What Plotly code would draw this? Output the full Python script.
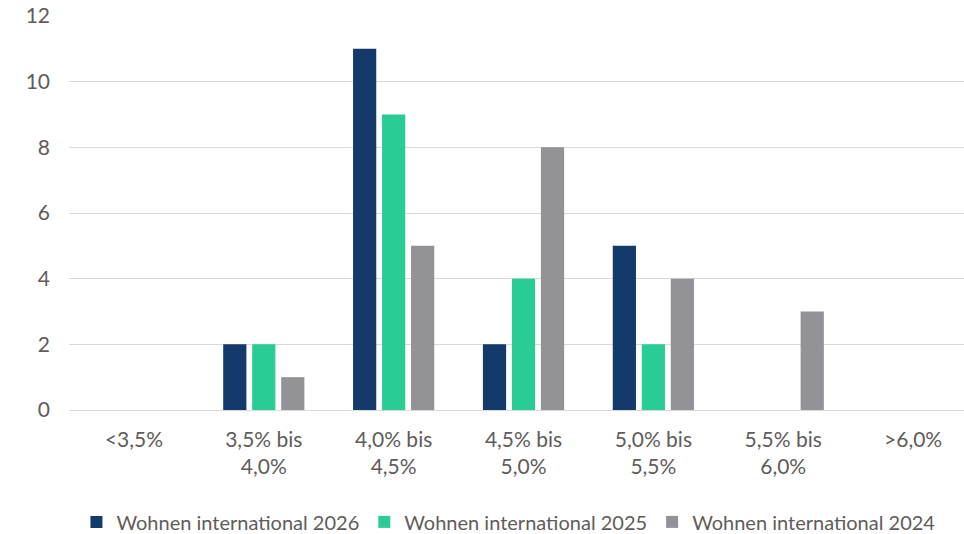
import plotly.graph_objects as go

# Interest-rate bands (x categories)
categories = ["<3,5%", "3,5% bis<br>4,0%", "4,0% bis<br>4,5%", "4,5% bis<br>5,0%",
              "5,0% bis<br>5,5%", "5,5% bis<br>6,0%", ">6,0%"]

# Counts per band and survey year
values_2026 = [0, 2, 11, 2, 5, 0, 0]
values_2025 = [0, 2, 9, 4, 2, 0, 0]
values_2024 = [0, 1, 5, 8, 4, 3, 0]

series_names = ["Wohnen international 2026", "Wohnen international 2025", "Wohnen international 2024"]
series_colors = ["#143A6B", "#2ACC96", "#929297"]

y_ticks = [0, 2, 4, 6, 8, 10, 12]

text_color = "#605c5a"
font_family = "Lato, 'Open Sans', sans-serif"
font_size = 21

fig = go.Figure()
for name, vals, color in zip(series_names, [values_2026, values_2025, values_2024], series_colors):
    fig.add_trace(go.Bar(
        x=list(range(len(categories))),
        y=vals,
        name=name,
        marker=dict(color=color, line=dict(width=0)),
    ))

fig.update_layout(
    width=964,
    height=534,
    margin=dict(l=69, r=0, t=16, b=124, autoexpand=False),
    paper_bgcolor="white",
    plot_bgcolor="white",
    barmode="group",
    bargap=0.33,
    bargroupgap=0.2,
    font=dict(family=font_family, size=font_size, color=text_color),
    showlegend=True,
    legend=dict(
        orientation="h",
        x=0.491, xanchor="center",
        y=-0.284, yanchor="middle",
        font=dict(family=font_family, size=20, color=text_color),
        itemwidth=30,
        traceorder="normal",
    ),
)

fig.update_xaxes(
    tickmode="array",
    tickvals=list(range(len(categories))),
    ticktext=categories,
    range=[-0.5, 6.392],
    showgrid=False,
    zeroline=False,
    showline=False,
    ticks="",
    ticklabelstandoff=15,
    tickfont=dict(family=font_family, size=font_size, color=text_color),
)

fig.update_yaxes(
    range=[0, 12],
    tickmode="array",
    tickvals=y_ticks,
    showgrid=True,
    gridcolor="#D9D9D9",
    gridwidth=1,
    zeroline=True,
    zerolinecolor="#D9D9D9",
    zerolinewidth=1,
    showline=False,
    ticks="",
    ticklabelstandoff=18,
    tickfont=dict(family=font_family, size=font_size, color=text_color),
)

fig.write_html("out.html")
